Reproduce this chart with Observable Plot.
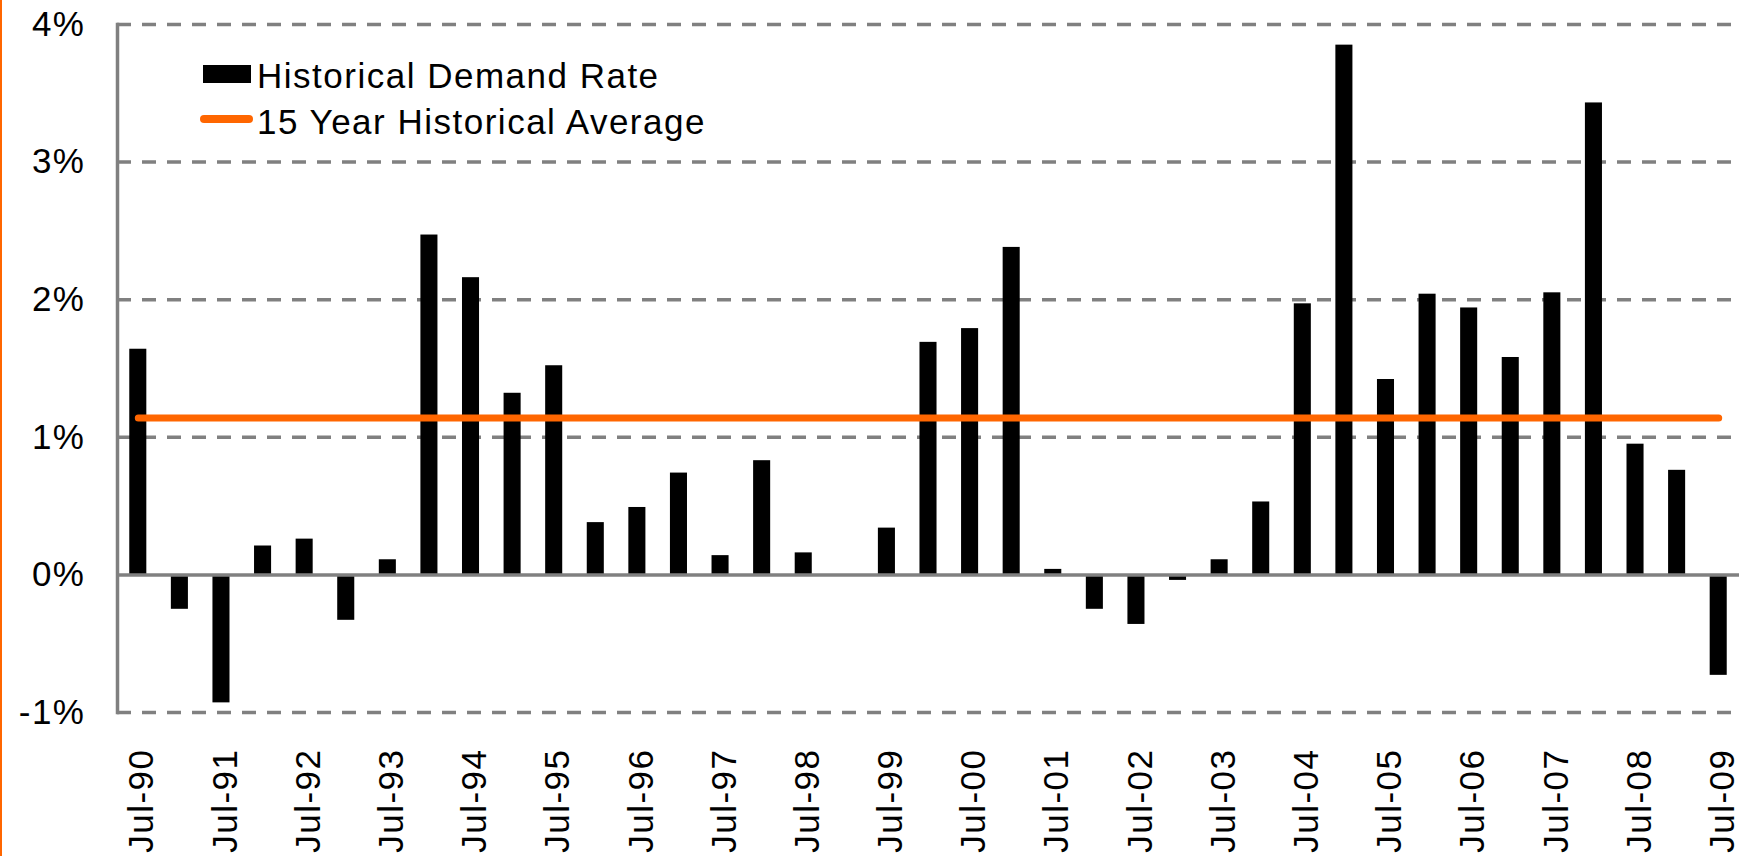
<!DOCTYPE html>
<html>
<head>
<meta charset="utf-8">
<script src="https://cdn.jsdelivr.net/npm/d3@7"></script>
<script src="https://cdn.jsdelivr.net/npm/@observablehq/plot@0.6"></script>
<style>
  html, body { margin: 0; padding: 0; background: #fff; }
  #wrap { position: relative; width: 1744px; height: 856px; overflow: hidden;
          font-family: "Liberation Sans", Arial, sans-serif; }
  #edge { position: absolute; left: 0; top: 0; width: 2px; height: 856px; background: #FF6600; }
  .lg { position: absolute; font-size: 35px; line-height: 35px; letter-spacing: 1.5px; color: #000; white-space: nowrap; }
  #sw1 { position: absolute; left: 203px; top: 65px; width: 48px; height: 18px; background: #000; }
  #sw2 { position: absolute; left: 200px; top: 115px; width: 53px; height: 8px; border-radius: 4px; background: #FF6600; }
</style>
</head>
<body>
<div id="wrap">
  <div id="chart"></div>
  <div id="edge"></div>
  <div id="sw1"></div>
  <div class="lg" id="lg1" style="left:257px; top:58px;"></div>
  <div id="sw2"></div>
  <div class="lg" id="lg2" style="left:257px; top:104px;"></div>
</div>
<script>
// ---- data ----
const periods = [
  "Jul-90","Jan-91","Jul-91","Jan-92","Jul-92","Jan-93","Jul-93","Jan-94","Jul-94","Jan-95",
  "Jul-95","Jan-96","Jul-96","Jan-97","Jul-97","Jan-98","Jul-98","Jan-99","Jul-99","Jan-00",
  "Jul-00","Jan-01","Jul-01","Jan-02","Jul-02","Jan-03","Jul-03","Jan-04","Jul-04","Jan-05",
  "Jul-05","Jan-06","Jul-06","Jan-07","Jul-07","Jan-08","Jul-08","Jan-09","Jul-09"
];
const demandRate = [
  1.64, -0.25, -0.93, 0.21, 0.26, -0.33, 0.11, 2.47, 2.16, 1.32,
  1.52, 0.38, 0.49, 0.74, 0.14, 0.83, 0.16, 0.00, 0.34, 1.69,
  1.79, 2.38, 0.04, -0.25, -0.36, -0.04, 0.11, 0.53, 1.97, 3.85,
  1.42, 2.04, 1.94, 1.58, 2.05, 3.43, 0.95, 0.76, -0.73
];
const averageRate = 1.14;
const xTickLabels = ["Jul-90","Jul-91","Jul-92","Jul-93","Jul-94","Jul-95","Jul-96","Jul-97","Jul-98","Jul-99",
                     "Jul-00","Jul-01","Jul-02","Jul-03","Jul-04","Jul-05","Jul-06","Jul-07","Jul-08","Jul-09"];
const yTicks = [-1, 0, 1, 2, 3, 4];
const gridTicks = [-1, 1, 2, 3, 4];
const seriesNames = ["Historical Demand Rate", "15 Year Historical Average"];

// ---- tables built from arrays ----
const bars = periods.map((p, i) => ({period: p, rate: demandRate[i]}));
const avgLine = periods.map(p => ({period: p, rate: averageRate}));

document.getElementById("lg1").textContent = seriesNames[0];
document.getElementById("lg2").textContent = seriesNames[1];

const chart = Plot.plot({
  width: 1744,
  height: 856,
  marginLeft: 117,
  marginRight: 5,
  marginTop: 24,
  marginBottom: 144,
  style: {
    fontFamily: '"Liberation Sans", Arial, sans-serif',
    fontSize: "35px",
    letterSpacing: "1.5px",
    color: "#000",
    background: "transparent",
    overflow: "visible"
  },
  x: {type: "band", domain: periods, paddingInner: 0.59, paddingOuter: 0.295, round: false, label: null},
  y: {domain: [-1, 4], label: null},
  marks: [
    Plot.ruleY(gridTicks, {stroke: "#808080", strokeWidth: 3.5, strokeDasharray: "14,11"}),
    Plot.barY(bars, {x: "period", y: "rate", fill: "#000"}),
    Plot.ruleY([0], {stroke: "#808080", strokeWidth: 3.5}),
    Plot.frame({anchor: "left", stroke: "#808080", strokeWidth: 3.5}),
    Plot.lineY(avgLine, {x: "period", y: "rate", stroke: "#FF6600", strokeWidth: 7, strokeLinecap: "round"}),
    Plot.axisX({ticks: xTickLabels, tickSize: 0, tickPadding: 36, tickRotate: -90, dx: 4, label: null}),
    Plot.axisY({ticks: yTicks, tickSize: 0, tickPadding: 32, tickFormat: d => d + "%", label: null})
  ]
});
document.getElementById("chart").appendChild(chart);
</script>
</body>
</html>
